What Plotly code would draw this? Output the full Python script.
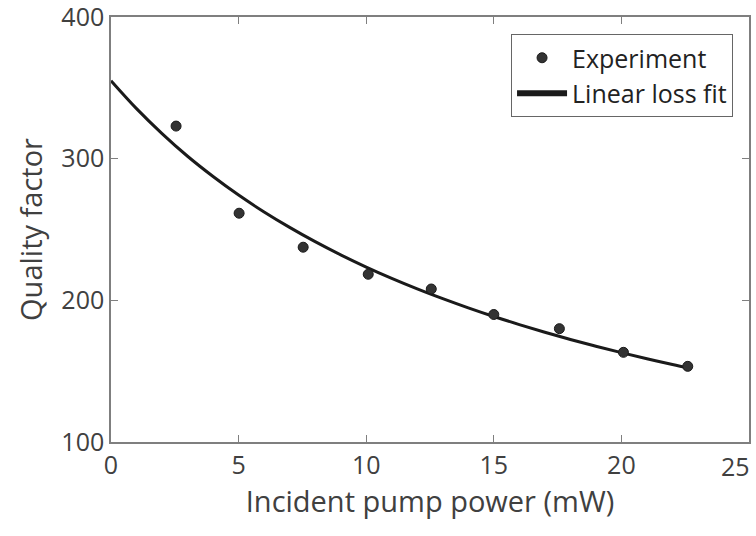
import plotly.graph_objects as go

# Experimental data
power_mw = [2.55, 5.02, 7.53, 10.08, 12.55, 15.0, 17.57, 20.08, 22.6]
quality = [323, 261.5, 237.5, 218.4, 208, 190, 180, 163.3, 153.4]

# Linear loss fit curve
fit_power = [0, 1, 2, 3, 4, 5, 6, 7, 8, 9, 10, 11, 12, 13, 14, 15, 16, 17, 18, 19, 20, 21, 22, 22.7]
fit_quality = [355, 335.3, 317.7, 301.7, 287.4, 274.3, 262.4, 251.5, 241.4, 232.1, 223.5, 215.5,
               208.1, 201.2, 194.7, 188.6, 182.9, 177.5, 172.4, 167.6, 163.1, 158.8, 154.7, 152.0]

x_ticks = [0, 5, 10, 15, 20, 25]
y_ticks = [100, 200, 300, 400]

FONT = "Open Sans"
TXT = "#404040"
AX = "#7f7f7f"
TICK_SIZE = 25

fig = go.Figure()
fig.add_trace(go.Scatter(x=fit_power, y=fit_quality, mode="lines", line=dict(color="#1a1a1a", width=3, shape="spline"),
                         showlegend=False, hoverinfo="skip"))
fig.add_trace(go.Scatter(x=power_mw, y=quality, mode="markers", name="Experiment",
                         marker=dict(size=10, color="#333333", line=dict(color="#1a1a1a", width=1))))
fig.add_trace(go.Scatter(x=[None], y=[None], mode="lines", name="Linear loss fit",
                         line=dict(color="#1a1a1a", width=6)))

axis_common = dict(showline=True, linecolor=AX, linewidth=1.5, mirror="allticks", ticks="inside",
                   ticklen=7, tickcolor=AX, tickwidth=1.2, showgrid=False, zeroline=False,
                   automargin=False, ticklabeloverflow="allow",
                   tickfont=dict(family=FONT, size=TICK_SIZE, color=TXT))

# last x tick label drawn right-aligned at the axis end (as in reference)
x_labels = [str(v) for v in x_ticks[:-1]] + [""]

fig.update_layout(
    width=756, height=536,
    margin=dict(l=111, r=7, t=17, b=94),
    paper_bgcolor="white", plot_bgcolor="white",
    xaxis=dict(range=[0, 25], tickvals=x_ticks, ticktext=x_labels,
               title=dict(text="Incident pump power (mW)", font=dict(family=FONT, size=29, color=TXT), standoff=8),
               **axis_common),
    yaxis=dict(range=[100, 400], tickvals=y_ticks, ticktext=[str(v) for v in y_ticks],
               title=dict(text="Quality factor", font=dict(family=FONT, size=29, color=TXT), standoff=10),
               **axis_common),
    legend=dict(x=0.975, y=0.96, xanchor="right", yanchor="top", bgcolor="white",
                bordercolor="#666666", borderwidth=1, font=dict(family=FONT, size=25, color="#222222"),
                itemwidth=50, tracegroupgap=0),
    annotations=[dict(x=x_ticks[-1], y=0, xref="x", yref="paper", yanchor="top", xanchor="right",
                      text=str(x_ticks[-1]), showarrow=False, yshift=-5, xshift=3,
                      font=dict(family=FONT, size=TICK_SIZE, color=TXT))],
)

fig.write_html("out.html")
